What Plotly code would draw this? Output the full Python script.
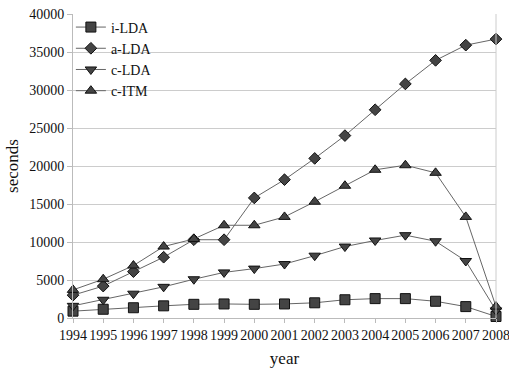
import plotly.graph_objects as go

years = list(range(1994, 2009))
i_lda = [900, 1150, 1350, 1600, 1800, 1850, 1800, 1850, 2000, 2400, 2550, 2550, 2200, 1500, 200]
a_lda = [3000, 4200, 6100, 8000, 10300, 10300, 15800, 18200, 21000, 24000, 27400, 30800, 33900, 35900, 36700]
c_lda = [1600, 2400, 3200, 4100, 5100, 6000, 6500, 7100, 8200, 9400, 10200, 10900, 10100, 7500, 1000]
c_itm = [3700, 5100, 6900, 9400, 10400, 12200, 12200, 13300, 15300, 17400, 19500, 20100, 19100, 13300, 1500]
y_ticks = [0, 5000, 10000, 15000, 20000, 25000, 30000, 35000, 40000]

series = [
    ("i-LDA", i_lda, "square", 10),
    ("a-LDA", a_lda, "diamond", 9),
    ("c-LDA", c_lda, "triangle-down", 10),
    ("c-ITM", c_itm, "triangle-up", 10),
]

fig = go.Figure()
for name, vals, sym, sz in series:
    fig.add_trace(go.Scatter(
        x=years, y=vals, name=name, mode="lines+markers",
        line=dict(color="#666666", width=1),
        marker=dict(symbol=sym, size=sz, color="#444444", line=dict(color="#111111", width=1)),
        cliponaxis=False,
    ))

font = dict(family="Liberation Serif, Times New Roman, serif", size=14, color="#111111")
fig.update_layout(
    width=509, height=368,
    margin=dict(l=73, r=13, t=13, b=50),
    paper_bgcolor="white", plot_bgcolor="white",
    font=font,
    showlegend=True,
    legend=dict(x=-0.005, y=1.005, xanchor="left", yanchor="top", bgcolor="rgba(0,0,0,0)",
                font=dict(size=14), tracegroupgap=0, itemwidth=30),
)
fig.update_xaxes(
    range=[1994, 2008], tickmode="array", tickvals=years, ticktext=[str(y) for y in years],
    showgrid=False, showline=True, linecolor="#bbbbbb", linewidth=1,
    ticks="outside", ticklen=4, tickcolor="#bbbbbb", tickangle=0,
    ticklabeloverflow="allow", automargin=False,
    title=dict(text="year", standoff=18), zeroline=False,
)
fig.update_yaxes(
    range=[0, 40000], tickmode="array", tickvals=y_ticks, ticktext=[str(v) for v in y_ticks],
    showgrid=True, gridcolor="#cccccc", gridwidth=1,
    showline=True, linecolor="#bbbbbb", linewidth=1,
    ticks="outside", ticklen=5, tickcolor="#bbbbbb", automargin=False,
    title=dict(text="seconds", standoff=6), zeroline=False,
)
fig.add_shape(type="line", xref="paper", yref="paper", x0=1, x1=1, y0=0, y1=1,
              line=dict(color="#cccccc", width=1))
fig.write_html("out.html", config={"displayModeBar": False},
               post_script="document.body.style.margin='0';document.body.style.overflow='hidden';")
